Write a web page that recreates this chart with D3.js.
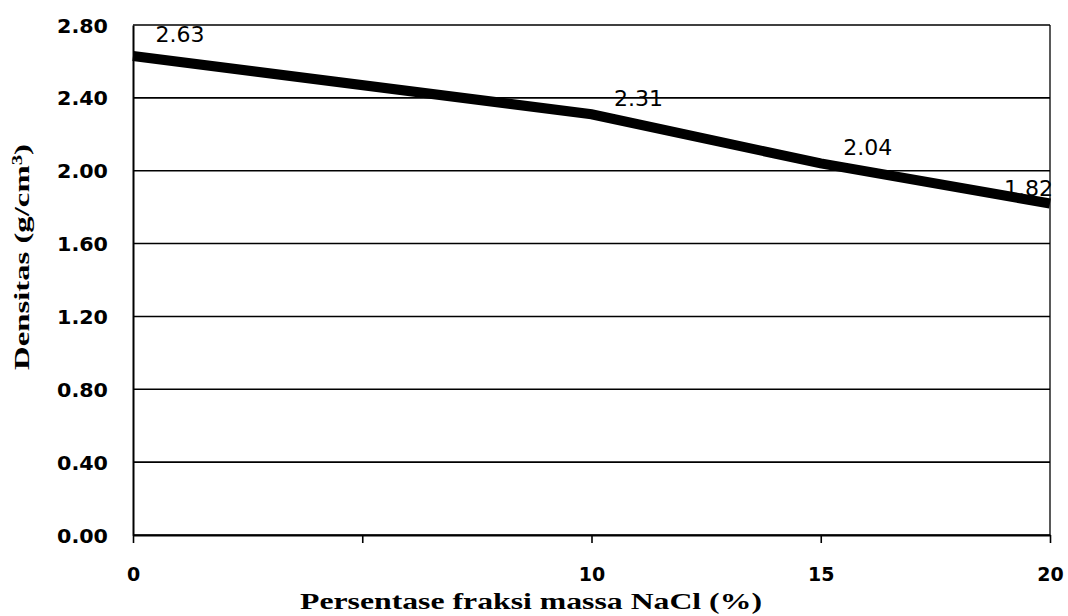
<!DOCTYPE html>
<html><head><meta charset="utf-8">
<script src="https://cdn.jsdelivr.net/npm/d3@7/dist/d3.min.js"></script>
<style>body{margin:0;background:#fff}svg{display:block}</style>
</head><body>
<script>
const xValues = [0, 10, 15, 20];
const densitas = [2.63, 2.31, 2.04, 1.82];
const xTicks = [0, 5, 10, 15, 20];
const xTickLabels = ["0", "", "10", "15", "20"];
const yTicks = [0, 0.4, 0.8, 1.2, 1.6, 2.0, 2.4, 2.8];

const W = 1068, H = 616;
const m = {left: 133, right: 18, top: 25, bottom: 81};
const svg = d3.select("body").append("svg").attr("width", W).attr("height", H);
const x = d3.scaleLinear().domain([0, 20]).range([m.left, W - m.right]);
const y = d3.scaleLinear().domain([0, 2.8]).range([H - m.bottom, m.top]);

// gridlines
svg.append("g").selectAll("line").data(yTicks).join("line")
  .attr("x1", x(0)).attr("x2", x(20)).attr("y1", d => y(d)).attr("y2", d => y(d))
  .attr("stroke", "#000").attr("stroke-width", 1.6);
// right border
svg.append("line").attr("x1", x(20)).attr("x2", x(20)).attr("y1", y(2.8)).attr("y2", y(0))
  .attr("stroke", "#000").attr("stroke-width", 1.3);

// y axis
const yAxis = svg.append("g").attr("transform", `translate(${m.left},0)`)
  .call(d3.axisLeft(y).tickValues(yTicks).tickFormat(d3.format(".2f")).tickSize(0).tickPadding(25));
yAxis.select(".domain").attr("stroke-width", 2);
yAxis.selectAll("text").attr("font-family", "DejaVu Sans").attr("font-weight", "bold")
  .attr("font-size", 20).attr("fill", "#000").attr("dy", "0.35em")
  .attr("textLength", 51).attr("lengthAdjust", "spacingAndGlyphs");

// x axis
const xAxis = svg.append("g").attr("transform", `translate(0,${y(0)})`)
  .call(d3.axisBottom(x).tickValues(xTicks).tickFormat((d, i) => xTickLabels[i]).tickSize(8).tickSizeOuter(0).tickPadding(25));
xAxis.select(".domain").attr("stroke-width", 2);
xAxis.selectAll(".tick line").attr("stroke-width", 1.6);
xAxis.selectAll("text").attr("font-family", "DejaVu Sans").attr("font-weight", "bold")
  .attr("font-size", 19).attr("fill", "#000");

// line
const pts = xValues.map((v, i) => [v, densitas[i]]);
svg.append("path").datum(pts)
  .attr("fill", "none").attr("stroke", "#000").attr("stroke-width", 10)
  .attr("d", d3.line().x(d => x(d[0])).y(d => y(d[1])));

// data labels
svg.append("g").selectAll("text").data(pts).join("text")
  .attr("x", (d, i) => i === pts.length - 1 ? x(d[0]) + 3 : x(d[0]) + 47)
  .attr("y", (d, i) => y(d[1]) - (i === 0 ? 14 : 8))
  .attr("text-anchor", (d, i) => i === pts.length - 1 ? "end" : "middle")
  .attr("font-family", "DejaVu Sans").attr("font-size", 22).attr("fill", "#000")
  .text(d => d[1].toFixed(2));

// axis titles
svg.append("text").attr("x", 300).attr("y", 609)
  .attr("textLength", 462).attr("lengthAdjust", "spacingAndGlyphs")
  .attr("font-family", "Liberation Serif").attr("font-weight", "bold")
  .attr("font-size", 24).text("Persentase fraksi massa NaCl (%)");
svg.append("text").attr("transform", `translate(29,370) rotate(-90)`)
  .attr("textLength", 226).attr("lengthAdjust", "spacingAndGlyphs")
  .attr("font-family", "Liberation Serif").attr("font-weight", "bold")
  .attr("font-size", 22)
  .html('Densitas (g/cm<tspan baseline-shift="super" font-size="14">3</tspan>)');
</script>
</body></html>
